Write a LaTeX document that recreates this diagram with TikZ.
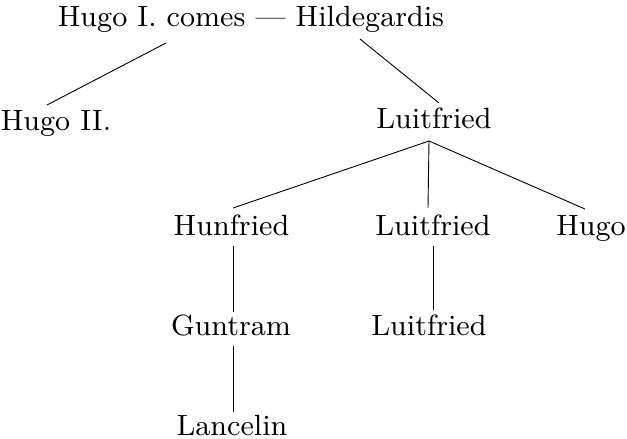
\documentclass[tikz,border=0pt]{standalone}
\usepackage{graphicx}
\newcommand{\pn}[1]{\scalebox{3.256}{\fontsize{9}{10}\selectfont #1}}
\begin{document}
\begin{tikzpicture}[x=1pt,y=-1pt,
  person/.style={inner sep=0pt,anchor=base},
  link/.style={line width=0.9pt}]
\useasboundingbox (0,0) rectangle (627,439);
\node[person] (top) at (251,27) {\pn{Hugo I. comes --- Hildegardis}};
\node[person] (hugoII) at (56,130) {\pn{Hugo II.}};
\node[person] (luit1) at (434,128) {\pn{Luitfried}};
\node[person] (hunf) at (231.5,235) {\pn{Hunfried}};
\node[person] (luit2) at (433,235) {\pn{Luitfried}};
\node[person] (hugo) at (591,235) {\pn{Hugo}};
\node[person] (gunt) at (231,335) {\pn{Guntram}};
\node[person] (luit3) at (429,335) {\pn{Luitfried}};
\node[person] (lanc) at (232,435) {\pn{Lancelin}};
\coordinate (tl) at ([shift={(-85,16)}]top.base);
\coordinate (tr) at ([shift={(109,12)}]top.base);
\coordinate (apex) at ([shift={(-5,13)}]luit1.base);
\draw[link] (tl) -- ([shift={(-9,-25)}]hugoII.base);
\draw[link] (tr) -- ([shift={(5,-25)}]luit1.base);
\draw[link] (apex) -- ([shift={(1.5,-27)}]hunf.base);
\draw[link] (apex) -- ([shift={(-5,-27)}]luit2.base);
\draw[link] (apex) -- ([shift={(-6,-26)}]hugo.base);
\draw[link] ([shift={(1.5,11)}]hunf.base) -- ([shift={(2,-23)}]gunt.base);
\draw[link] ([shift={(0,11)}]luit2.base) -- ([shift={(4,-25)}]luit3.base);
\draw[link] ([shift={(2,11)}]gunt.base) -- ([shift={(1,-23)}]lanc.base);
\end{tikzpicture}
\end{document}
